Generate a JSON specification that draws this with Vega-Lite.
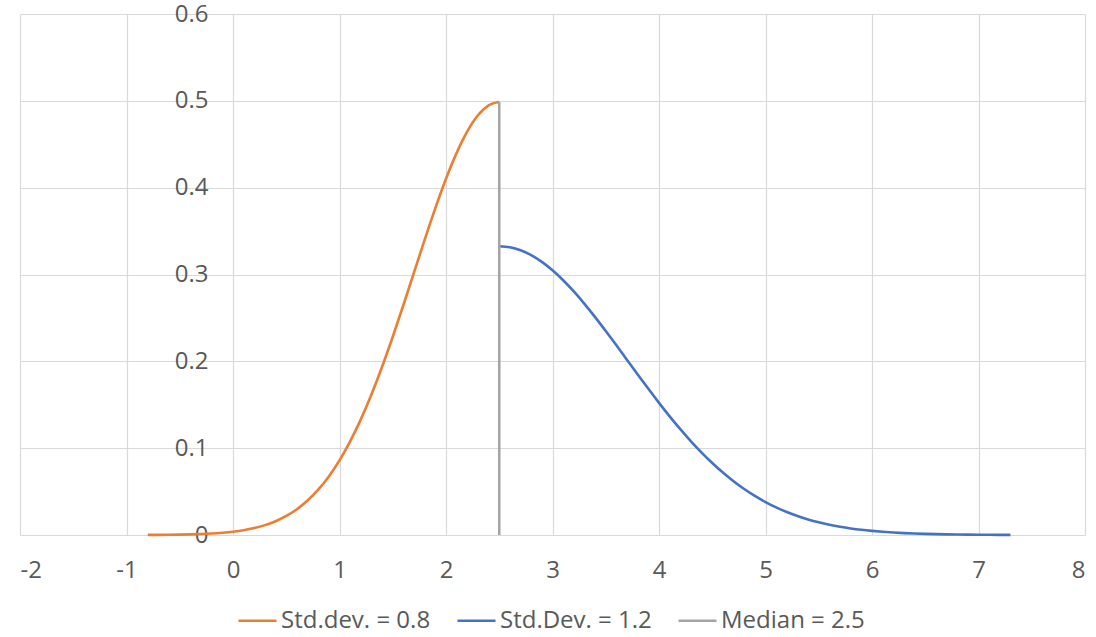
{
  "$schema": "https://vega.github.io/schema/vega-lite/v6.json",
  "autosize": {"type": "none"},
  "width": 1065,
  "height": 521,
  "padding": {"left": 20, "top": 14, "right": 11, "bottom": 102},
  "background": "white",
  "config": {
    "font": "Open Sans",
    "view": {"stroke": null},
    "axis": {
      "labelFont": "Open Sans",
      "labelFontSize": 24,
      "labelColor": "#595959",
      "gridColor": "#D9D9D9",
      "gridWidth": 1.2,
      "ticks": false,
      "title": null
    },
    "legend": {
      "labelFont": "Open Sans",
      "labelFontSize": 24,
      "labelColor": "#595959"
    }
  },
  "data": {
    "values": [
      {"s": "Std.dev. = 0.8", "x": -0.8, "y": 0.0001},
      {"s": "Std.dev. = 0.8", "x": -0.7, "y": 0.00017},
      {"s": "Std.dev. = 0.8", "x": -0.6, "y": 0.00027},
      {"s": "Std.dev. = 0.8", "x": -0.5, "y": 0.00044},
      {"s": "Std.dev. = 0.8", "x": -0.4, "y": 0.0007},
      {"s": "Std.dev. = 0.8", "x": -0.3, "y": 0.00109},
      {"s": "Std.dev. = 0.8", "x": -0.2, "y": 0.00168},
      {"s": "Std.dev. = 0.8", "x": -0.1, "y": 0.00254},
      {"s": "Std.dev. = 0.8", "x": 0.0, "y": 0.00378},
      {"s": "Std.dev. = 0.8", "x": 0.1, "y": 0.00554},
      {"s": "Std.dev. = 0.8", "x": 0.2, "y": 0.008},
      {"s": "Std.dev. = 0.8", "x": 0.3, "y": 0.01137},
      {"s": "Std.dev. = 0.8", "x": 0.4, "y": 0.01591},
      {"s": "Std.dev. = 0.8", "x": 0.5, "y": 0.02191},
      {"s": "Std.dev. = 0.8", "x": 0.6, "y": 0.02971},
      {"s": "Std.dev. = 0.8", "x": 0.7, "y": 0.03968},
      {"s": "Std.dev. = 0.8", "x": 0.8, "y": 0.05216},
      {"s": "Std.dev. = 0.8", "x": 0.9, "y": 0.06749},
      {"s": "Std.dev. = 0.8", "x": 1.0, "y": 0.08598},
      {"s": "Std.dev. = 0.8", "x": 1.1, "y": 0.10785},
      {"s": "Std.dev. = 0.8", "x": 1.2, "y": 0.13318},
      {"s": "Std.dev. = 0.8", "x": 1.3, "y": 0.1619},
      {"s": "Std.dev. = 0.8", "x": 1.4, "y": 0.19377},
      {"s": "Std.dev. = 0.8", "x": 1.5, "y": 0.22831},
      {"s": "Std.dev. = 0.8", "x": 1.6, "y": 0.26485},
      {"s": "Std.dev. = 0.8", "x": 1.7, "y": 0.30247},
      {"s": "Std.dev. = 0.8", "x": 1.8, "y": 0.34007},
      {"s": "Std.dev. = 0.8", "x": 1.9, "y": 0.37643},
      {"s": "Std.dev. = 0.8", "x": 2.0, "y": 0.4102},
      {"s": "Std.dev. = 0.8", "x": 2.1, "y": 0.44008},
      {"s": "Std.dev. = 0.8", "x": 2.2, "y": 0.46482},
      {"s": "Std.dev. = 0.8", "x": 2.3, "y": 0.48334},
      {"s": "Std.dev. = 0.8", "x": 2.4, "y": 0.4948},
      {"s": "Std.dev. = 0.8", "x": 2.5, "y": 0.49868},
      {"s": "Std.Dev. = 1.2", "x": 2.5, "y": 0.33245},
      {"s": "Std.Dev. = 1.2", "x": 2.6, "y": 0.3313},
      {"s": "Std.Dev. = 1.2", "x": 2.7, "y": 0.32787},
      {"s": "Std.Dev. = 1.2", "x": 2.8, "y": 0.32222},
      {"s": "Std.Dev. = 1.2", "x": 2.9, "y": 0.31448},
      {"s": "Std.Dev. = 1.2", "x": 3.0, "y": 0.30481},
      {"s": "Std.Dev. = 1.2", "x": 3.1, "y": 0.29339},
      {"s": "Std.Dev. = 1.2", "x": 3.2, "y": 0.28044},
      {"s": "Std.Dev. = 1.2", "x": 3.3, "y": 0.26621},
      {"s": "Std.Dev. = 1.2", "x": 3.4, "y": 0.25095},
      {"s": "Std.Dev. = 1.2", "x": 3.5, "y": 0.23492},
      {"s": "Std.Dev. = 1.2", "x": 3.6, "y": 0.21841},
      {"s": "Std.Dev. = 1.2", "x": 3.7, "y": 0.20164},
      {"s": "Std.Dev. = 1.2", "x": 3.8, "y": 0.18487},
      {"s": "Std.Dev. = 1.2", "x": 3.9, "y": 0.16833},
      {"s": "Std.Dev. = 1.2", "x": 4.0, "y": 0.15221},
      {"s": "Std.Dev. = 1.2", "x": 4.1, "y": 0.13667},
      {"s": "Std.Dev. = 1.2", "x": 4.2, "y": 0.12188},
      {"s": "Std.Dev. = 1.2", "x": 4.3, "y": 0.10793},
      {"s": "Std.Dev. = 1.2", "x": 4.4, "y": 0.09492},
      {"s": "Std.Dev. = 1.2", "x": 4.5, "y": 0.0829},
      {"s": "Std.Dev. = 1.2", "x": 4.6, "y": 0.0719},
      {"s": "Std.Dev. = 1.2", "x": 4.7, "y": 0.06193},
      {"s": "Std.Dev. = 1.2", "x": 4.8, "y": 0.05296},
      {"s": "Std.Dev. = 1.2", "x": 4.9, "y": 0.04499},
      {"s": "Std.Dev. = 1.2", "x": 5.0, "y": 0.03795},
      {"s": "Std.Dev. = 1.2", "x": 5.1, "y": 0.0318},
      {"s": "Std.Dev. = 1.2", "x": 5.2, "y": 0.02645},
      {"s": "Std.Dev. = 1.2", "x": 5.3, "y": 0.02185},
      {"s": "Std.Dev. = 1.2", "x": 5.4, "y": 0.01793},
      {"s": "Std.Dev. = 1.2", "x": 5.5, "y": 0.01461},
      {"s": "Std.Dev. = 1.2", "x": 5.6, "y": 0.01182},
      {"s": "Std.Dev. = 1.2", "x": 5.7, "y": 0.0095},
      {"s": "Std.Dev. = 1.2", "x": 5.8, "y": 0.00758},
      {"s": "Std.Dev. = 1.2", "x": 5.9, "y": 0.006},
      {"s": "Std.Dev. = 1.2", "x": 6.0, "y": 0.00473},
      {"s": "Std.Dev. = 1.2", "x": 6.1, "y": 0.00369},
      {"s": "Std.Dev. = 1.2", "x": 6.2, "y": 0.00287},
      {"s": "Std.Dev. = 1.2", "x": 6.3, "y": 0.00221},
      {"s": "Std.Dev. = 1.2", "x": 6.4, "y": 0.00169},
      {"s": "Std.Dev. = 1.2", "x": 6.5, "y": 0.00129},
      {"s": "Std.Dev. = 1.2", "x": 6.6, "y": 0.00097},
      {"s": "Std.Dev. = 1.2", "x": 6.7, "y": 0.00073},
      {"s": "Std.Dev. = 1.2", "x": 6.8, "y": 0.00054},
      {"s": "Std.Dev. = 1.2", "x": 6.9, "y": 0.0004},
      {"s": "Std.Dev. = 1.2", "x": 7.0, "y": 0.00029},
      {"s": "Std.Dev. = 1.2", "x": 7.1, "y": 0.00021},
      {"s": "Std.Dev. = 1.2", "x": 7.2, "y": 0.00015},
      {"s": "Std.Dev. = 1.2", "x": 7.3, "y": 0.00011},
      {"s": "Median = 2.5", "x": 2.5, "y": 0},
      {"s": "Median = 2.5", "x": 2.5, "y": 0.49868}
    ]
  },
  "mark": {"type": "line", "strokeWidth": 2.6, "interpolate": "monotone"},
  "encoding": {
    "x": {
      "field": "x",
      "type": "quantitative",
      "scale": {"domain": [-2, 8], "nice": false, "zero": false},
      "axis": {
        "values": [-2, -1, 0, 1, 2, 3, 4, 5, 6, 7, 8],
        "labelExpr": "'' + datum.value",
        "labelPadding": 23,
        "domain": true,
        "domainColor": "#D9D9D9",
        "domainWidth": 1.2
      }
    },
    "y": {
      "field": "y",
      "type": "quantitative",
      "scale": {"domain": [0, 0.6], "nice": false},
      "axis": {
        "values": [0, 0.1, 0.2, 0.3, 0.4, 0.5, 0.6],
        "format": ".1~f",
        "offset": -212,
        "domain": false,
        "labelPadding": 24,
        "labelBaseline": "middle"
      }
    },
    "color": {
      "field": "s",
      "type": "nominal",
      "title": null,
      "scale": {
        "domain": ["Std.dev. = 0.8", "Std.Dev. = 1.2", "Median = 2.5"],
        "range": ["#ED7D31", "#4472C4", "#A5A5A5"]
      },
      "legend": {
        "orient": "none",
        "direction": "horizontal",
        "legendX": 217,
        "legendY": 586,
        "padding": 0,
        "symbolType": "stroke",
        "symbolSize": 1444,
        "symbolStrokeWidth": 2.6,
        "labelOffset": 3,
        "columnPadding": 21
      }
    }
  }
}
